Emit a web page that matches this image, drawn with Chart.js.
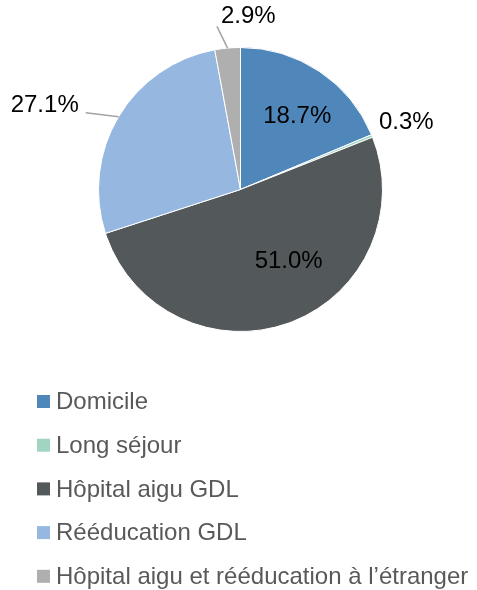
<!DOCTYPE html>
<html>
<head>
<meta charset="utf-8">
<script src="https://cdn.jsdelivr.net/npm/chart.js@4"></script>
<style>
  html, body { margin: 0; padding: 0; background: #fff; }
  #wrap { width: 477px; height: 590px; }
</style>
</head>
<body>
<div id="wrap"><canvas id="pieChart" width="477" height="590"></canvas></div>
<script>
const categories = ['Domicile', 'Long séjour', 'Hôpital aigu GDL', 'Rééducation GDL', 'Hôpital aigu et rééducation à l’étranger'];
const shares = [18.7, 0.3, 51.0, 27.1, 2.9];
const colours = ['#4f87bb', '#a2d4c2', '#53585a', '#96b8e0', '#aeafae'];

const FONT = '"Liberation Sans", Arial, sans-serif';

// where each value label sits: [radius factor, angle nudge in degrees]
const labelPlace = [[0.65, 4.3], [1.26, 0], [0.61, -14], [1.5, -7.6], [1.22, 7.8]];

const pieLabels = {
    id: 'pieLabels',
    afterDraw(chart) {
        const ctx = chart.ctx;
        const arcs = chart.getDatasetMeta(0).data;
        ctx.save();
        ctx.font = '24px ' + FONT;
        ctx.fillStyle = '#000';
        ctx.textAlign = 'center';
        ctx.textBaseline = 'middle';
        arcs.forEach((arc, i) => {
            const mid = (arc.startAngle + arc.endAngle) / 2;
            const a = mid + labelPlace[i][1] * Math.PI / 180;
            const r = arc.outerRadius * labelPlace[i][0];
            const lx = arc.x + Math.cos(a) * r;
            const ly = arc.y + Math.sin(a) * r;
            const text = shares[i].toFixed(1) + '%';
            ctx.fillText(text, lx, ly);

            // leader lines for the outside labels on the left/top
            if (i === 3 || i === 4) {
                const ex = arc.x + Math.cos(mid) * arc.outerRadius;
                const ey = arc.y + Math.sin(mid) * arc.outerRadius;
                const w = ctx.measureText(text).width;
                let tx, ty;
                if (i === 3) { tx = lx + w / 2 + 7; ty = ly + 7; }
                else { tx = lx - w / 2 - 4; ty = ly + 10; }
                ctx.beginPath();
                ctx.moveTo(ex, ey);
                ctx.lineTo(tx, ty);
                ctx.strokeStyle = '#a3a3a3';
                ctx.lineWidth = 1.5;
                ctx.stroke();
            }
        });

        // vertical legend under the pie
        ctx.font = '24px ' + FONT;
        ctx.textAlign = 'left';
        ctx.textBaseline = 'middle';
        categories.forEach((name, i) => {
            const y = 401.5 + i * 43.7;
            ctx.fillStyle = colours[i];
            ctx.fillRect(37, y - 6.5, 13, 13);
            ctx.fillStyle = '#595959';
            ctx.fillText(name, 56, y + 1);
        });
        ctx.restore();
    }
};

new Chart(document.getElementById('pieChart'), {
    type: 'pie',
    data: {
        labels: categories,
        datasets: [{
            data: shares,
            backgroundColor: colours,
            borderColor: '#ffffff',
            borderWidth: 1,
            hoverOffset: 0
        }]
    },
    options: {
        responsive: false,
        animation: false,
        layout: { padding: { left: 98, right: 94, top: 47, bottom: 258 } },
        plugins: {
            legend: { display: false },
            tooltip: { enabled: false }
        }
    },
    plugins: [pieLabels]
});
</script>
</body>
</html>
